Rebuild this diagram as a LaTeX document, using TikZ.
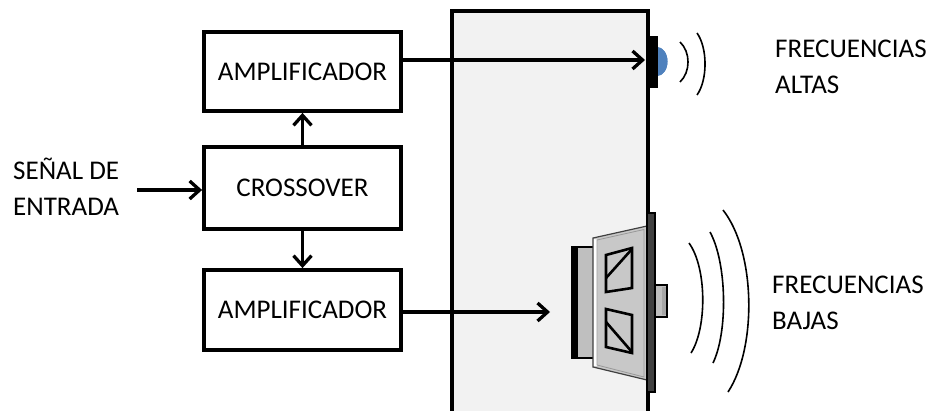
\documentclass[tikz,border=0pt]{standalone}
\usepackage{fontspec}
\setmainfont{Carlito}
\usetikzlibrary{arrows.meta}
\definecolor{panelgray}{HTML}{F2F2F2}
\definecolor{conegray}{HTML}{C8C8C8}
\definecolor{partgray}{HTML}{BFBFBF}
\definecolor{domeblue}{HTML}{4F81BD}
\begin{document}
\begin{tikzpicture}[x=1pt,y=-1pt,
  lbl/.style={font=\fontsize{27}{36}\selectfont, align=left, inner sep=0pt},
  block/.style={draw, line width=3.8pt, fill=white, minimum width=197pt, inner sep=0pt,
                font=\fontsize{27}{34}\selectfont},
  sig/.style={line width=3.3pt, -{Straight Barb[length=10pt,width=18pt]}},
  wave/.style={line width=1.6pt},
  part/.style={draw=black, line width=1pt}]
\useasboundingbox (0,0) rectangle (931,410);

% cabinet
\fill[panelgray] (452,11) rectangle (648,420);
\draw[line width=3.5pt] (452,420) -- (452,11) -- (648,11) -- (648,420);

% processing chain
\node[block, minimum height=79pt] (amp1) at (302.5,71.5) {AMPLIFICADOR};
\node[block, minimum height=82pt] (xover) at (302.5,188) {CROSSOVER};
\node[block, minimum height=80pt] (amp2) at (302.5,310) {AMPLIFICADOR};

\node[lbl, anchor=west] (input) at (13,187) {SEÑAL DE\\ENTRADA};
\coordinate (instart) at (137,190);
\coordinate (twin) at (645,60);
\coordinate (wfin) at (550,312);

\draw[sig] (instart) -- (xover.west |- instart);
\draw[sig] (xover.north) -- (amp1.south);
\draw[sig] (xover.south) -- (amp2.north);
\draw[sig] (amp1.east |- twin) -- (twin);
\draw[sig] (amp2.east |- wfin) -- (wfin);

% tweeter
\fill[domeblue] (657,47) arc[start angle=-90, end angle=90, x radius=10.5pt, y radius=-14.5pt] -- cycle;
\fill[domeblue] (657,76) arc[start angle=-90, end angle=90, x radius=10.5pt, y radius=14.5pt] -- cycle;
\fill[black] (647,36) rectangle (657.5,88);

% woofer: magnet
\fill[partgray] (572,247) rectangle (594,358);
\draw[black, line width=2pt] (572,247) rectangle (594,358);
\fill[black] (571,246) rectangle (578,359);
% woofer: cone
\fill[conegray, draw=black!75, line width=1.2pt] (593,238) -- (647,226) -- (647,380) -- (593,367) -- cycle;
\fill[white] (593.8,239) -- (597,239.5) -- (597,366) -- (593.8,366) -- cycle;
\draw[black!40, line width=0.8pt] (597,240) -- (644,229.5) -- (644,377) -- (597,365) -- cycle;
% woofer: cone windows
\draw[line width=2.6pt, line join=miter] (606,255) -- (632,248) -- (632,288) -- (606,292) -- cycle;
\draw[line width=2.6pt] (606,278) -- (632,249);
\draw[line width=2.6pt, line join=miter] (606,309) -- (632,315) -- (632,353) -- (606,347) -- cycle;
\draw[line width=2.6pt] (606,322) -- (632,352);
% woofer: front plate and hub
\fill[black!75, draw=black, line width=2pt] (647,213) rectangle (655,392);
\fill[partgray, draw=black, line width=1.4pt] (655,285) rectangle (667,317);
\fill[black!35] (662,287) rectangle (666,315);

% sound waves, high frequencies
\draw[wave] (680,42) .. controls (690.7,52) and (690.7,72) .. (680,82);
\draw[wave] (697,33) .. controls (707.7,48) and (707.7,80) .. (697,95);
% sound waves, low frequencies
\draw[wave] (689,243) .. controls (707,268) and (707,328) .. (691,353);
\draw[wave] (710,232) .. controls (727,263) and (728,332) .. (713,363);
\draw[wave] (723,210) .. controls (756,252) and (757,348) .. (728,392);

\node[lbl, anchor=west] (high) at (775,67) {FRECUENCIAS\\ALTAS};
\node[lbl, anchor=west] (low) at (772,303) {FRECUENCIAS\\BAJAS};
\end{tikzpicture}
\end{document}
